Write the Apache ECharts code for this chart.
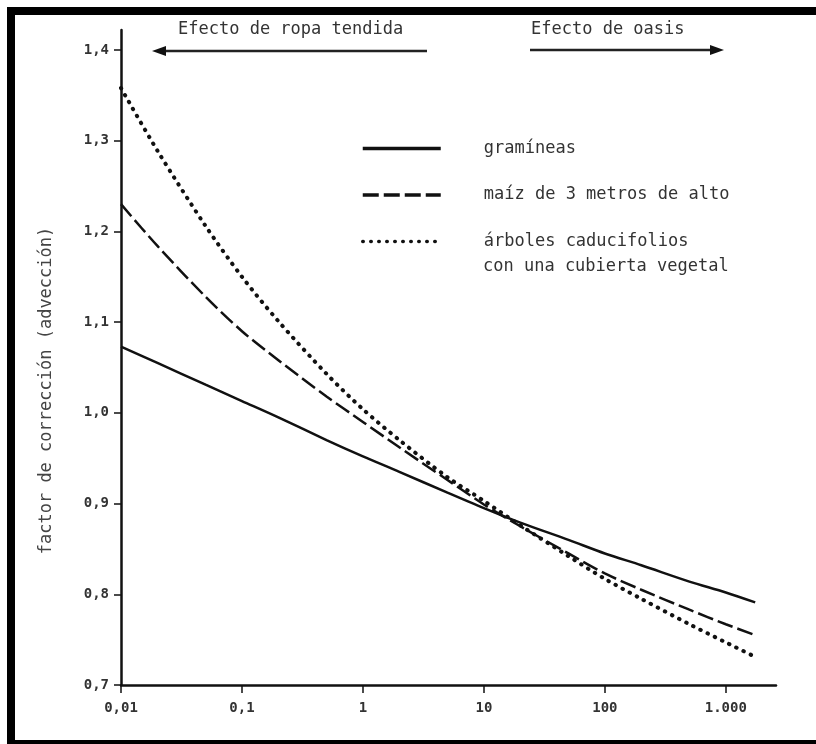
<!DOCTYPE html>
<html lang="es">
<head>
    <meta charset="UTF-8">
    <title>Factor de corrección (advección)</title>
    <script src="https://cdn.jsdelivr.net/npm/echarts@6.0.0/dist/echarts.min.js"></script>
    <style>
        html, body { margin: 0; padding: 0; background: #ffffff; }
        #chart { width: 816px; height: 744px; }
    </style>
</head>
<body>
    <div id="chart"></div>

    <script type="text/javascript">
        // valores de x (escala logarítmica)
        var xVals = [0.01, 0.02, 0.05, 0.1, 0.2, 0.5, 1, 2, 5, 10, 20, 50, 100, 200, 500, 1000, 1750];

        // curvas
        var gramineas = [1.073, 1.055, 1.031, 1.013, 0.995, 0.970, 0.952, 0.935, 0.912, 0.895, 0.879, 0.860, 0.845, 0.832, 0.814, 0.802, 0.791];
        var maiz      = [1.230, 1.184, 1.128, 1.090, 1.058, 1.018, 0.990, 0.962, 0.926, 0.899, 0.875, 0.845, 0.823, 0.805, 0.783, 0.767, 0.755];
        var arboles   = [1.358, 1.289, 1.206, 1.150, 1.101, 1.043, 1.004, 0.970, 0.929, 0.903, 0.876, 0.842, 0.817, 0.795, 0.767, 0.747, 0.731];

        var xTicks = [0.01, 0.1, 1, 10, 100, 1000];
        var xTickLabels = ['0,01', '0,1', '1', '10', '100', '1.000'];
        var yTicks = [0.7, 0.8, 0.9, 1.0, 1.1, 1.2, 1.3, 1.4];
        var yTickLabels = ['0,7', '0,8', '0,9', '1,0', '1,1', '1,2', '1,3', '1,4'];

        var seriesNames = ['gramíneas', 'maíz de 3 metros de alto', 'árboles caducifolios'];

        function pairs(ys) {
            return xVals.map(function (x, i) { return [x, ys[i]]; });
        }

        var FONT = 'DejaVu Sans Mono';
        var INK = '#111';
        var TXT = '#333';

        var chart = echarts.init(document.getElementById('chart'));

        var option = {
            backgroundColor: '#ffffff',
            animation: false,
            color: [INK, INK, INK],
            grid: { left: 121, right: 40, top: 30, bottom: 59 },
            xAxis: {
                type: 'log',
                logBase: 10,
                min: 0.01,
                max: 2600,
                splitLine: { show: false },
                axisLine: { lineStyle: { color: INK, width: 2.5 } },
                axisTick: { customValues: xTicks, length: 8, lineStyle: { color: INK, width: 1.5 } },
                axisLabel: {
                    customValues: xTicks,
                    margin: 16,
                    color: TXT, fontFamily: FONT, fontSize: 14, fontWeight: 'bold',
                    formatter: function (v) {
                        var i = xTicks.findIndex(function (t) { return Math.abs(Math.log10(t) - Math.log10(v)) < 1e-6; });
                        return i >= 0 ? xTickLabels[i] : '';
                    }
                }
            },
            yAxis: {
                type: 'value',
                min: 0.7,
                max: 1.422,
                splitLine: { show: false },
                axisLine: { show: true, lineStyle: { color: INK, width: 2.5 } },
                axisTick: { show: true, customValues: yTicks, length: 7, lineStyle: { color: INK, width: 1.5 } },
                axisLabel: {
                    customValues: yTicks,
                    margin: 12,
                    color: TXT, fontFamily: FONT, fontSize: 14, fontWeight: 'bold',
                    formatter: function (v) {
                        var i = yTicks.findIndex(function (t) { return Math.abs(t - v) < 1e-6; });
                        return i >= 0 ? yTickLabels[i] : '';
                    }
                },
                name: 'factor de corrección (advección)',
                nameLocation: 'middle',
                nameRotate: 90,
                nameGap: 66,
                nameTextStyle: { color: '#444', fontFamily: FONT, fontSize: 17, padding: [0, 66, 0, 0] }
            },
            legend: {
                orient: 'vertical',
                left: 356,
                top: 135,
                itemWidth: 78,
                itemHeight: 14,
                itemGap: 29.5,
                data: seriesNames,
                itemStyle: { opacity: 0 },
                lineStyle: { width: 3.5 },
                formatter: function (name) { return '{t|' + name + '}'; },
                textStyle: {
                    rich: {
                        t: { color: TXT, fontFamily: FONT, fontSize: 17, lineHeight: 18, padding: [0, 0, 0, 38] }
                    }
                }
            },
            graphic: [
                {
                    type: 'rect',
                    shape: { x: 11, y: 11, width: 860, height: 733 },
                    style: { fill: 'none', stroke: '#000', lineWidth: 8 }
                },
                {
                    type: 'text', left: 178, top: 21,
                    style: { text: 'Efecto de ropa tendida', fill: TXT, font: '17px "DejaVu Sans Mono"' }
                },
                {
                    type: 'line',
                    shape: { x1: 160, y1: 51, x2: 427, y2: 51 },
                    style: { stroke: '#222', lineWidth: 2.5 }
                },
                {
                    type: 'polygon',
                    shape: { points: [[152, 51], [166, 46], [166, 56]] },
                    style: { fill: '#111' }
                },
                {
                    type: 'text', left: 531, top: 21,
                    style: { text: 'Efecto de oasis', fill: TXT, font: '17px "DejaVu Sans Mono"' }
                },
                {
                    type: 'line',
                    shape: { x1: 530, y1: 50, x2: 714, y2: 50 },
                    style: { stroke: '#222', lineWidth: 2.5 }
                },
                {
                    type: 'polygon',
                    shape: { points: [[724, 50], [710, 45], [710, 55]] },
                    style: { fill: '#111' }
                },
                {
                    type: 'text', left: 483, top: 258,
                    style: { text: 'con una cubierta vegetal', fill: TXT, font: '17px "DejaVu Sans Mono"' }
                }
            ],
            series: [
                {
                    name: seriesNames[0],
                    type: 'line',
                    data: pairs(gramineas),
                    smooth: 0.3,
                    symbol: 'none',
                    itemStyle: { color: INK },
                    lineStyle: { color: INK, width: 2.5, type: 'solid' }
                },
                {
                    name: seriesNames[1],
                    type: 'line',
                    data: pairs(maiz),
                    smooth: 0.3,
                    symbol: 'none',
                    itemStyle: { color: INK },
                    lineStyle: { color: INK, width: 2.5, type: [16, 5] }
                },
                {
                    name: seriesNames[2],
                    type: 'line',
                    data: pairs(arboles),
                    smooth: 0.3,
                    symbol: 'none',
                    itemStyle: { color: INK },
                    lineStyle: { color: INK, width: 4, type: [0.5, 7.5], cap: 'round' }
                }
            ]
        };

        chart.setOption(option);
    </script>
</body>
</html>
